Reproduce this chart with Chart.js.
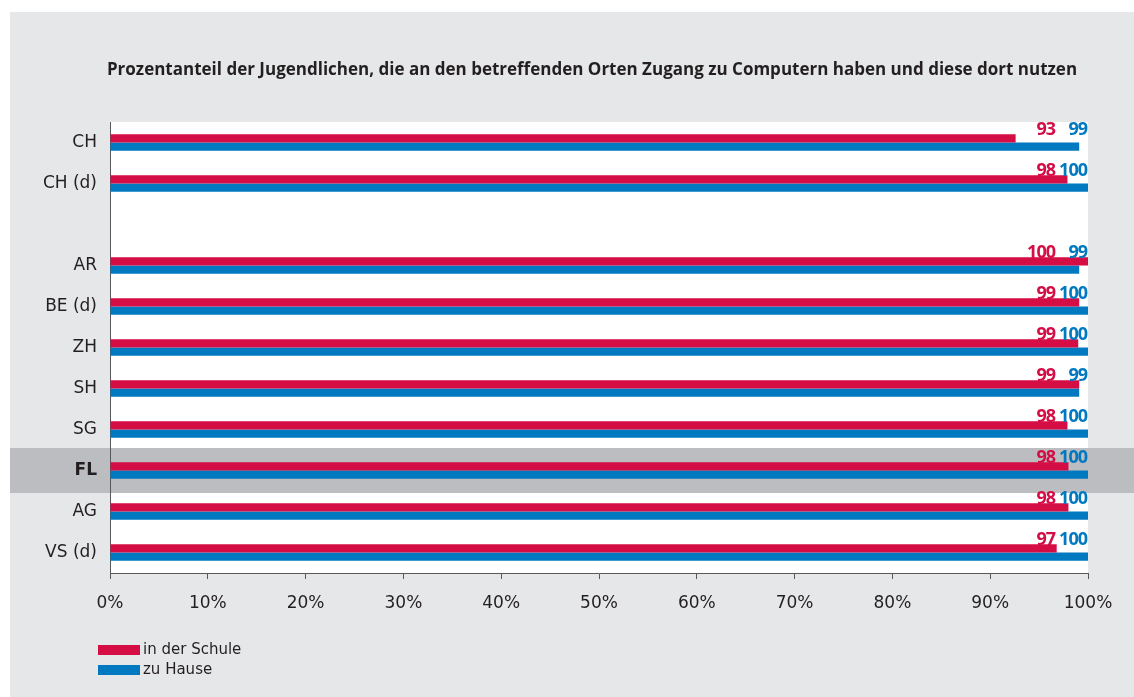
<!DOCTYPE html>
<html>
<head>
<meta charset="utf-8">
<script src="https://cdn.jsdelivr.net/npm/chart.js@4/dist/chart.umd.min.js"></script>
<style>
    body { margin: 0; background: #ffffff; }
</style>
</head>
<body>
<canvas id="grafica" width="1134" height="697"></canvas>
<script>
//Daten
var regionen = ['CH', 'CH (d)', '', 'AR', 'BE (d)', 'ZH', 'SH', 'SG', 'FL', 'AG', 'VS (d)'];
var schule = [92.6, 97.9, null, 100, 99.1, 99, 99.1, 97.9, 98, 98, 96.8];
var hause = [99.1, 100, null, 99.1, 100, 100, 99.1, 100, 100, 100, 100];
var serien = ['in der Schule', 'zu Hause'];
var titel = 'Prozentanteil der Jugendlichen, die an den betreffenden Orten Zugang zu Computern haben und diese dort nutzen';
var markiert = 'FL';

var rot = '#d40d45';
var blau = '#0079c1';
var grau = '#e6e7e9';
var textFarbe = '#231f20';

//Hintergrund, Markierung, Titel und Legende
var hintergrund = {
    id: 'hintergrund',
    beforeDraw: function(chart) {
        var ctx = chart.ctx;
        var area = chart.chartArea;
        ctx.save();
        ctx.fillStyle = '#ffffff';
        ctx.fillRect(0, 0, chart.width, chart.height);
        ctx.fillStyle = grau;
        ctx.fillRect(10, 12, chart.width - 10, chart.height - 12);
        ctx.fillStyle = '#ffffff';
        ctx.fillRect(area.left, area.top, area.right - area.left, area.bottom - area.top);

        var y = chart.scales.y;
        var i = regionen.indexOf(markiert);
        var mitte = y.getPixelForValue(i);
        ctx.fillStyle = '#bcbdc0';
        ctx.fillRect(10, mitte - 22.5, chart.width - 10, 45);

        ctx.fillStyle = textFarbe;
        ctx.font = 'bold 17px "Open Sans"';
        ctx.textAlign = 'center';
        ctx.textBaseline = 'middle';
        ctx.fillText(titel, 592, 70);
        ctx.restore();
    },
    afterDraw: function(chart) {
        var ctx = chart.ctx;
        ctx.save();
        var farben = [rot, blau];
        for (var i = 0; i < serien.length; i++) {
            ctx.fillStyle = farben[i];
            ctx.fillRect(98, 645 + i * 20, 42, 10);
            ctx.fillStyle = textFarbe;
            ctx.font = '15px "DejaVu Sans"';
            ctx.textAlign = 'left';
            ctx.textBaseline = 'middle';
            ctx.fillText(serien[i], 143, 650 + i * 20);
        }
        ctx.restore();
    }
};

//Werte ueber den Balken
var werte = {
    id: 'werte',
    afterDatasetsDraw: function(chart) {
        var ctx = chart.ctx;
        var area = chart.chartArea;
        var y = chart.scales.y;
        ctx.save();
        ctx.font = 'bold 18px "Open Sans"';
        ctx.letterSpacing = '-1px';
        ctx.textAlign = 'right';
        ctx.textBaseline = 'middle';
        for (var i = 0; i < regionen.length; i++) {
            if (schule[i] === null) continue;
            var mitte = y.getPixelForValue(i);
            ctx.fillStyle = rot;
            ctx.fillText(Math.round(schule[i]), area.right - 33, mitte - 13);
            ctx.fillStyle = blau;
            ctx.fillText(Math.round(hause[i]), area.right - 1, mitte - 13);
        }
        ctx.restore();
    }
};

//Grafik
var ctx = document.getElementById('grafica').getContext('2d');

var myChart = new Chart(ctx, {
    type: 'bar',
    data: {
        labels: regionen,
        datasets: [{
            label: serien[0],
            data: schule,
            backgroundColor: rot,
            categoryPercentage: 0.4,
            barPercentage: 1
        }, {
            label: serien[1],
            data: hause,
            backgroundColor: blau,
            categoryPercentage: 0.4,
            barPercentage: 1
        }]
    },
    options: {
        indexAxis: 'y',
        responsive: false,
        animation: false,
        layout: {
            padding: { left: 10, right: 46, top: 122, bottom: 74 }
        },
        plugins: {
            legend: { display: false },
            tooltip: { enabled: false }
        },
        scales: {
            x: {
                min: 0,
                max: 100,
                afterFit: function(scale) { scale.height = 50; },
                ticks: {
                    stepSize: 10,
                    padding: 14,
                    color: textFarbe,
                    font: { family: 'DejaVu Sans', size: 17 },
                    callback: function(v) { return v + '%'; }
                },
                grid: {
                    drawOnChartArea: false,
                    drawTicks: true,
                    tickLength: 6,
                    color: '#58595b'
                },
                border: { display: true, color: '#58595b', width: 1 }
            },
            y: {
                afterFit: function(scale) { scale.width = 100; },
                ticks: {
                    padding: 13,
                    color: textFarbe,
                    font: function(c) {
                        if (regionen[c.index] === markiert) {
                            return { family: 'DejaVu Sans', size: 17, weight: 'bold' };
                        }
                        return { family: 'DejaVu Sans', size: 17 };
                    }
                },
                grid: { display: false, drawTicks: false },
                border: { display: true, color: '#58595b', width: 1 }
            }
        }
    },
    plugins: [hintergrund, werte]
});
</script>
</body>
</html>
